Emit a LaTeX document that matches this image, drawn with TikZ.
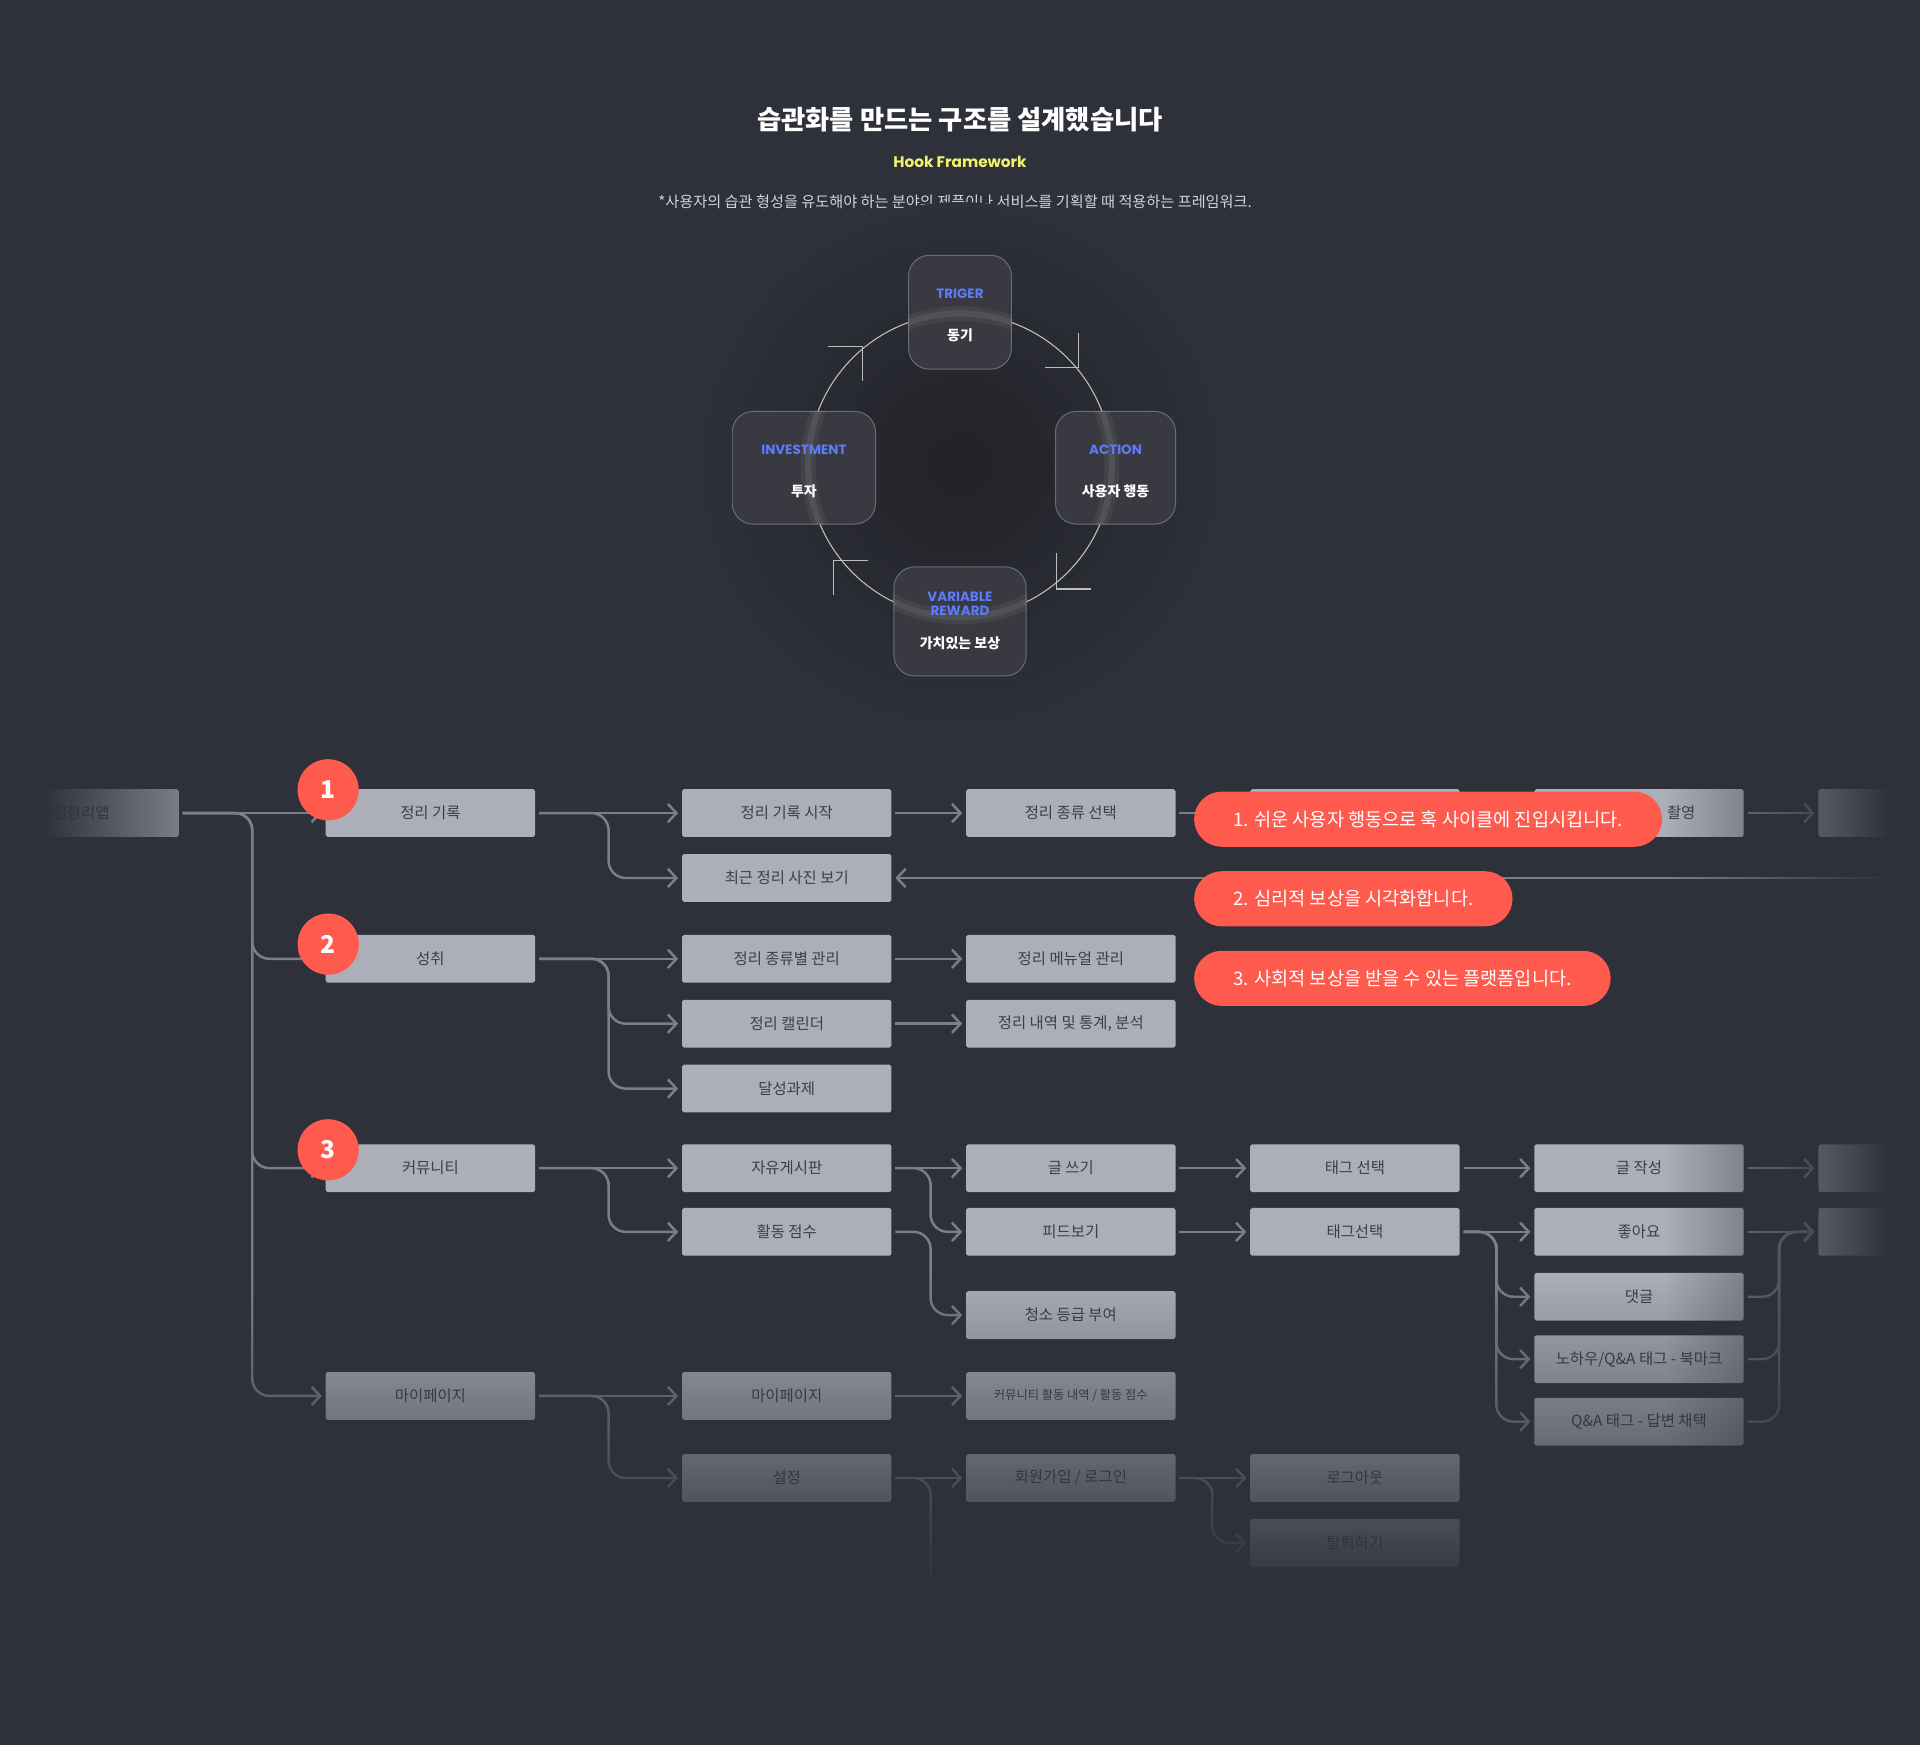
\documentclass[tikz,border=0pt]{standalone}
\usepackage{fontspec}
\setmainfont{Noto Sans CJK KR}
\newfontfamily\popfont{Poppins}
\usetikzlibrary{arrows.meta,fadings}

\definecolor{bgc}{HTML}{2E303A}
\definecolor{glowc}{HTML}{222328}
\definecolor{hookc}{HTML}{393A41}
\definecolor{hookline}{HTML}{6C6D74}
\definecolor{ringc}{HTML}{BDBDC0}
\definecolor{boxc}{HTML}{ACAFB9}
\definecolor{boxtext}{HTML}{3C3F4A}
\definecolor{linec}{HTML}{7C7F8A}
\definecolor{redc}{HTML}{FF5A4E}
\definecolor{bluec}{HTML}{5B7CFA}
\definecolor{yellowc}{HTML}{F2F26E}
\definecolor{subc}{HTML}{D2D4DA}

\tikzfading[name=fadeleft, left color=transparent!0, right color=transparent!62]
\tikzfading[name=faderight, left color=transparent!100, right color=transparent!0]
\tikzfading[name=fadedown, top color=transparent!100, bottom color=transparent!0]

\begin{document}
\begin{tikzpicture}[x=1pt, y=-1pt,
  box/.style={rectangle, fill=boxc, rounded corners=1.5pt, minimum width=171pt, minimum height=39pt,
    inner sep=0pt, text=boxtext, font=\fontsize{12.6}{14}\selectfont},
  hookbox/.style={rectangle, rounded corners=17pt, fill=hookc, draw=hookline, line width=0.8pt, inner sep=0pt},
  tag/.style={text=bluec, inner sep=0pt, font=\popfont\bfseries\fontsize{11}{11.5}\selectfont},
  ko/.style={text=white, inner sep=0pt, font=\bfseries\fontsize{11.4}{13}\selectfont},
  ring/.style={draw=ringc, line width=0.9pt},
  conn/.style={draw=linec, line width=2pt, rounded corners=14pt, shorten <=3pt, shorten >=3pt,
    -{Straight Barb[length=7pt,width=15pt]}},
  badge/.style={circle, fill=redc, minimum size=50pt, inner sep=0pt, text=white,
    font=\bfseries\fontsize{20}{20}\selectfont},
  callout/.style={rectangle, rounded corners=22.5pt, fill=redc, minimum height=45pt, inner xsep=32pt,
    anchor=west, text=white, font=\fontsize{15.2}{17}\selectfont},
]
    \useasboundingbox (0,0) rectangle (1568,1425);
    \fill[bgc] (0,0) rectangle (1568,1425);

    % Heading
    \node[text=white, font=\bfseries\fontsize{21.5}{25}\selectfont] (title) at (784,98) {습관화를 만드는 구조를 설계했습니다};
    \node[text=yellowc, font=\popfont\bfseries\fontsize{12.5}{15}\selectfont] (hook) at (784,132) {Hook Framework};
    \node[text=subc, font=\fontsize{12.4}{15}\selectfont] (note) at (780,165) {*사용자의 습관 형성을 유도해야 하는 분야의 제품이나 서비스를 기획할 때 적용하는 프레임워크.};

    % Hook cycle
    \shade[inner color=glowc, outer color=bgc] (784,380) circle (215pt);
    \draw[ring] (784,380) circle (124pt);
    \draw[ring] (881,272) -- (881,300) -- (853,300);
    \draw[ring] (863,452) -- (863,481) -- (891,481);
    \draw[ring] (709,458) -- (681,458) -- (681,486);
    \draw[ring] (676,283) -- (704,283) -- (704,311);

    \node[hookbox, minimum width=84pt, minimum height=93pt] (trig) at (784,255) {};
    \node[hookbox, minimum width=98pt, minimum height=92pt] (act) at (911,382) {};
    \node[hookbox, minimum width=117pt, minimum height=92pt] (inv) at (656.5,382) {};
    \node[hookbox, minimum width=108pt, minimum height=89pt] (rew) at (784,507.5) {};
    \foreach \b in {trig,act,inv,rew} {
      \begin{scope}
        \clip[rounded corners=17pt] (\b.south west) rectangle (\b.north east);
        \draw[white, opacity=0.05, line width=12pt] (784,380) circle (124pt);
        \draw[white, opacity=0.08, line width=5pt] (784,380) circle (124pt);
      \end{scope}
    }

    \node[tag] (trigtag) at (784,240) {TRIGER};
    \node[ko] (trigko) at (784,274) {동기};
    \node[tag] (acttag) at (911,367) {ACTION};
    \node[ko] (actko) at (911,401) {사용자 행동};
    \node[tag] (invtag) at (656.5,367) {INVESTMENT};
    \node[ko] (invko) at (656.5,401) {투자};
    \node[tag, align=center] (rewtag) at (784,493) {VARIABLE\\REWARD};
    \node[ko] (rewko) at (784,525) {가치있는 보상};

    % Flow boxes
    \node[box] (app) at (60.5,664) {물건정리앱};
    \node[box] (rec) at (351.5,664) {정리 기록};
    \node[box] (start) at (642.5,664) {정리 기록 시작};
    \node[box] (kind) at (874.5,664) {정리 종류 선택};
    \node[box] (hidden) at (1106.5,664) {};
    \node[box] (shoot) at (1338.5,664) {\hspace*{69pt}촬영};
    \node[box] (end1) at (1570.5,664) {};
    \node[box] (recent) at (642.5,717) {최근 정리 사진 보기};
    \coordinate (back) at (1545,717);

    \node[box] (achv) at (351.5,783) {성취};
    \node[box] (bykind) at (642.5,783) {정리 종류별 관리};
    \node[box] (manual) at (874.5,783) {정리 메뉴얼 관리};
    \node[box] (cal) at (642.5,836) {정리 캘린더};
    \node[box] (stats) at (874.5,836) {정리 내역 및 통계, 분석};
    \node[box] (task) at (642.5,889) {달성과제};

    \node[box] (comm) at (351.5,954) {커뮤니티};
    \node[box] (board) at (642.5,954) {자유게시판};
    \node[box] (write) at (874.5,954) {글 쓰기};
    \node[box] (tagsel) at (1106.5,954) {태그 선택};
    \node[box] (post) at (1338.5,954) {글 작성};
    \node[box] (end2) at (1570.5,954) {};
    \node[box] (score) at (642.5,1006) {활동 점수};
    \node[box] (feed) at (874.5,1006) {피드보기};
    \node[box] (tagsel2) at (1106.5,1006) {태그선택};
    \node[box] (like) at (1338.5,1006) {좋아요};
    \node[box] (end3) at (1570.5,1006) {};
    \node[box] (reply) at (1338.5,1059) {댓글};
    \node[box] (grade) at (874.5,1074) {청소 등급 부여};
    \node[box] (bookmark) at (1338.5,1110) {노하우/Q\&A 태그 - 북마크};
    \node[box] (answer) at (1338.5,1161) {Q\&A 태그 - 답변 채택};

    \node[box] (mypage) at (351.5,1140) {마이페이지};
    \node[box] (mypage2) at (642.5,1140) {마이페이지};
    \node[box, font=\fontsize{10}{12}\selectfont] (history) at (874.5,1140) {커뮤니티 활동 내역 / 활동 점수};
    \node[box] (setting) at (642.5,1207) {설정};
    \node[box] (login) at (874.5,1207) {회원가입 / 로그인};
    \node[box] (logout) at (1106.5,1207) {로그아웃};
    \node[box] (leave) at (1106.5,1260) {탈퇴하기};

    % Branch points
    \coordinate (t0) at (206,700);
    \coordinate (t1) at (497,690);
    \coordinate (t2) at (497,810);
    \coordinate (t3) at (497,980);
    \coordinate (t4) at (497,1170);
    \coordinate (t5) at (760,980);
    \coordinate (t6) at (760,1040);
    \coordinate (t8) at (1222,1030);
    \coordinate (t9) at (1453,1030);
    \coordinate (t10) at (990,1230);
    \coordinate (down) at (760,1295);

    % Connectors
    \draw[conn] (app.east) -- (rec.west);
    \draw[conn] (app.east) -| (t0) |- (achv.west);
    \draw[conn] (app.east) -| (t0) |- (comm.west);
    \draw[conn] (app.east) -| (t0) |- (mypage.west);

    \draw[conn] (rec.east) -- (start.west);
    \draw[conn] (rec.east) -| (t1) |- (recent.west);
    \draw[conn] (start.east) -- (kind.west);
    \draw[conn] (kind.east) -- (hidden.west);
    \draw[conn] (hidden.east) -- (shoot.west);
    \draw[conn] (shoot.east) -- (end1.west);
    \draw[conn] (back) -- (recent.east);

    \draw[conn] (achv.east) -- (bykind.west);
    \draw[conn] (achv.east) -| (t2) |- (cal.west);
    \draw[conn] (achv.east) -| (t2) |- (task.west);
    \draw[conn] (bykind.east) -- (manual.west);
    \draw[conn] (cal.east) -- (stats.west);

    \draw[conn] (comm.east) -- (board.west);
    \draw[conn] (comm.east) -| (t3) |- (score.west);
    \draw[conn] (board.east) -- (write.west);
    \draw[conn] (board.east) -| (t5) |- (feed.west);
    \draw[conn] (score.east) -| (t6) |- (grade.west);
    \draw[conn] (write.east) -- (tagsel.west);
    \draw[conn] (feed.east) -- (tagsel2.west);
    \draw[conn] (tagsel.east) -- (post.west);
    \draw[conn] (tagsel2.east) -- (like.west);
    \draw[conn] (tagsel2.east) -| (t8) |- (reply.west);
    \draw[conn] (tagsel2.east) -| (t8) |- (bookmark.west);
    \draw[conn] (tagsel2.east) -| (t8) |- (answer.west);
    \draw[conn] (post.east) -- (end2.west);
    \draw[conn] (like.east) -- (end3.west);
    \draw[conn] (reply.east) -| (t9) |- (end3.west);
    \draw[conn] (bookmark.east) -| (t9) |- (end3.west);
    \draw[conn] (answer.east) -| (t9) |- (end3.west);

    \draw[conn] (mypage.east) -- (mypage2.west);
    \draw[conn] (mypage.east) -| (t4) |- (setting.west);
    \draw[conn] (mypage2.east) -- (history.west);
    \draw[conn] (setting.east) -- (login.west);
    \draw[conn, -] (setting.east) -| (down);
    \draw[conn] (login.east) -- (logout.west);
    \draw[conn] (login.east) -| (t10) |- (leave.west);

    % Fading edges
    \fill[bgc] (0,640) rectangle (34,690);
    \fill[bgc, path fading=fadeleft] (34,640) rectangle (148,690);
    \fill[bgc, path fading=faderight] (1360,620) rectangle (1545,1300);
    \fill[bgc] (1545,620) rectangle (1568,1300);
    \fill[bgc, path fading=fadedown] (0,1040) rectangle (1568,1300);
    \fill[bgc] (0,1300) rectangle (1568,1425);

    % Badges
    \node[badge] (b1) at (268,645) {1};
    \node[badge] (b2) at (268,771) {2};
    \node[badge] (b3) at (268,939) {3};

    % Callouts
    \node[callout] (msg1) at (975,669) {1. 쉬운 사용자 행동으로 훅 사이클에 진입시킵니다.};
    \node[callout] (msg2) at (975,734) {2. 심리적 보상을 시각화합니다.};
    \node[callout] (msg3) at (975,799) {3. 사회적 보상을 받을 수 있는 플랫폼입니다.};
\end{tikzpicture}
\end{document}
